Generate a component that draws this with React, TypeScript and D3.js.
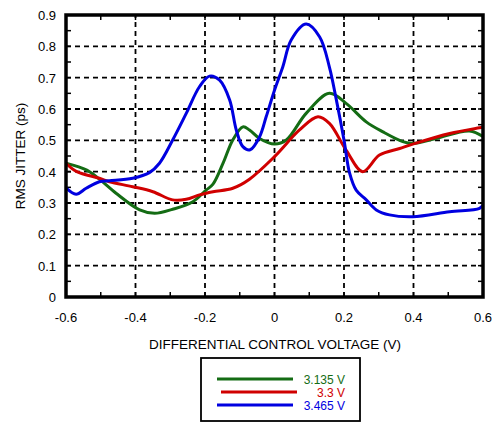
import React, { useEffect, useRef } from 'react';
import * as d3 from 'd3';

// control voltage (V) / rms jitter (ps)
const greenX = [-0.6, -0.54, -0.504, -0.456, -0.388, -0.345, -0.293, -0.235, -0.197, -0.177, -0.148, -0.12, -0.091, -0.072, -0.043, 0, 0.034, 0.091, 0.158, 0.206, 0.264, 0.312, 0.369, 0.398, 0.465, 0.561, 0.6];
const greenY = [0.427, 0.405, 0.376, 0.331, 0.278, 0.267, 0.28, 0.304, 0.341, 0.36, 0.427, 0.501, 0.543, 0.533, 0.506, 0.488, 0.501, 0.586, 0.65, 0.618, 0.559, 0.527, 0.496, 0.49, 0.506, 0.53, 0.512];

const redX = [-0.6, -0.569, -0.504, -0.475, -0.408, -0.35, -0.293, -0.254, -0.216, -0.177, -0.12, -0.072, 0, 0.072, 0.125, 0.158, 0.206, 0.254, 0.302, 0.36, 0.398, 0.504, 0.59, 0.6];
const redY = [0.427, 0.4, 0.379, 0.368, 0.352, 0.336, 0.31, 0.312, 0.326, 0.336, 0.347, 0.376, 0.448, 0.533, 0.575, 0.554, 0.469, 0.4, 0.453, 0.474, 0.488, 0.522, 0.54, 0.542];

const blueX = [-0.6, -0.571, -0.542, -0.504, -0.475, -0.408, -0.36, -0.331, -0.293, -0.254, -0.216, -0.187, -0.158, -0.129, -0.11, -0.091, -0.07, -0.043, -0.024, 0, 0.024, 0.048, 0.091, 0.13, 0.158, 0.178, 0.2, 0.216, 0.235, 0.264, 0.293, 0.331, 0.398, 0.504, 0.59, 0.6];
const blueY = [0.348, 0.328, 0.347, 0.368, 0.371, 0.379, 0.397, 0.427, 0.501, 0.586, 0.671, 0.705, 0.692, 0.629, 0.533, 0.48, 0.47, 0.511, 0.575, 0.66, 0.735, 0.82, 0.871, 0.83, 0.734, 0.629, 0.501, 0.396, 0.341, 0.31, 0.278, 0.262, 0.256, 0.272, 0.283, 0.293];

const seriesNames = ['3.135 V', '3.3 V', '3.465 V'];
const seriesColors = ['#146c14', '#d00000', '#0000e0'];
const xTicks = [-0.6, -0.4, -0.2, 0, 0.2, 0.4, 0.6];
const yTicks = [0, 0.1, 0.2, 0.3, 0.4, 0.5, 0.6, 0.7, 0.8, 0.9];

const W = 499, H = 423;
const FONT = '"Liberation Sans", Arial, sans-serif';

// plain hyphen for negatives, like the original
const fmt = (v: number) => String(+v.toFixed(1));

export default function App() {
    const ref = useRef<SVGSVGElement>(null);

    useEffect(() => {
        const svg = d3.select(ref.current);
        svg.selectAll('*').remove();

        const x = d3.scaleLinear().domain([-0.6, 0.6]).range([66, 483]);
        const y = d3.scaleLinear().domain([0, 0.9]).range([297, 15]);
        const [x0, x1] = x.range();
        const [y0, y1] = y.range();

        // grid
        const grid = svg.append('g').attr('stroke', '#000').attr('stroke-width', 1.8).attr('stroke-dasharray', '5,4');
        xTicks.slice(1, -1).forEach(v => {
            grid.append('line').attr('x1', x(v)).attr('x2', x(v)).attr('y1', y0).attr('y2', y1);
        });
        yTicks.slice(1, -1).forEach(v => {
            grid.append('line').attr('x1', x0).attr('x2', x1).attr('y1', y(v)).attr('y2', y(v));
        });

        // small inside ticks on all four sides
        const ticks = svg.append('g').attr('stroke', '#000').attr('stroke-width', 1.5);
        d3.range(-0.6, 0.61, 0.1).forEach(v => {
            ticks.append('line').attr('x1', x(v)).attr('x2', x(v)).attr('y1', y0).attr('y2', y0 - 5);
            ticks.append('line').attr('x1', x(v)).attr('x2', x(v)).attr('y1', y1).attr('y2', y1 + 5);
        });
        d3.range(0, 0.91, 0.05).forEach(v => {
            ticks.append('line').attr('x1', x0).attr('x2', x0 + 5).attr('y1', y(v)).attr('y2', y(v));
            ticks.append('line').attr('x1', x1).attr('x2', x1 - 5).attr('y1', y(v)).attr('y2', y(v));
        });

        // curves
        const line = d3.line<[number, number]>()
            .x(d => x(d[0]))
            .y(d => y(d[1]))
            .curve(d3.curveCatmullRom.alpha(0.5));
        const series = [
            d3.zip(greenX, greenY),
            d3.zip(redX, redY),
            d3.zip(blueX, blueY)
        ] as [number, number][][];
        series.forEach((s, i) => {
            svg.append('path')
                .attr('d', line(s))
                .attr('fill', 'none')
                .attr('stroke', seriesColors[i])
                .attr('stroke-width', 3)
                .attr('stroke-linejoin', 'round');
        });

        // frame
        svg.append('rect')
            .attr('x', x0).attr('y', y1)
            .attr('width', x1 - x0).attr('height', y0 - y1)
            .attr('fill', 'none').attr('stroke', '#000').attr('stroke-width', 3.5);

        // tick labels
        svg.append('g').selectAll('text').data(xTicks).enter().append('text')
            .attr('x', d => x(d)).attr('y', 322)
            .attr('text-anchor', 'middle')
            .style('font-family', FONT).style('font-size', '13px')
            .text(d => fmt(d));
        svg.append('g').selectAll('text').data(yTicks).enter().append('text')
            .attr('x', 56).attr('y', d => y(d) + 5)
            .attr('text-anchor', 'end')
            .style('font-family', FONT).style('font-size', '13px')
            .text(d => fmt(d));

        // axis titles
        svg.append('text')
            .attr('x', 275).attr('y', 349)
            .attr('text-anchor', 'middle')
            .style('font-family', FONT).style('font-size', '13.5px')
            .text('DIFFERENTIAL CONTROL VOLTAGE (V)');
        svg.append('text')
            .attr('transform', 'translate(25,156) rotate(-90)')
            .attr('text-anchor', 'middle')
            .style('font-family', FONT).style('font-size', '13.5px')
            .text('RMS JITTER (ps)');

        // legend
        const legend = svg.append('g');
        legend.append('rect')
            .attr('x', 201).attr('y', 358).attr('width', 159).attr('height', 63)
            .attr('fill', '#fff').attr('stroke', '#000').attr('stroke-width', 1.8);
        const legX1 = [217, 221, 217];
        const legX2 = [293, 297, 293];
        seriesNames.forEach((name, i) => {
            const ly = 379 + i * 13;
            legend.append('line')
                .attr('x1', legX1[i]).attr('x2', legX2[i]).attr('y1', ly).attr('y2', ly)
                .attr('stroke', seriesColors[i]).attr('stroke-width', 3);
            legend.append('text')
                .attr('x', 345).attr('y', ly + 4.5)
                .attr('text-anchor', 'end')
                .attr('fill', seriesColors[i])
                .style('font-family', FONT).style('font-size', '12px')
                .text(name);
        });
    }, []);

    return (
        <svg ref={ref} width={W} height={H}
            style={{ position: 'absolute', left: 0, top: 0, background: '#fff' }} />
    );
}
